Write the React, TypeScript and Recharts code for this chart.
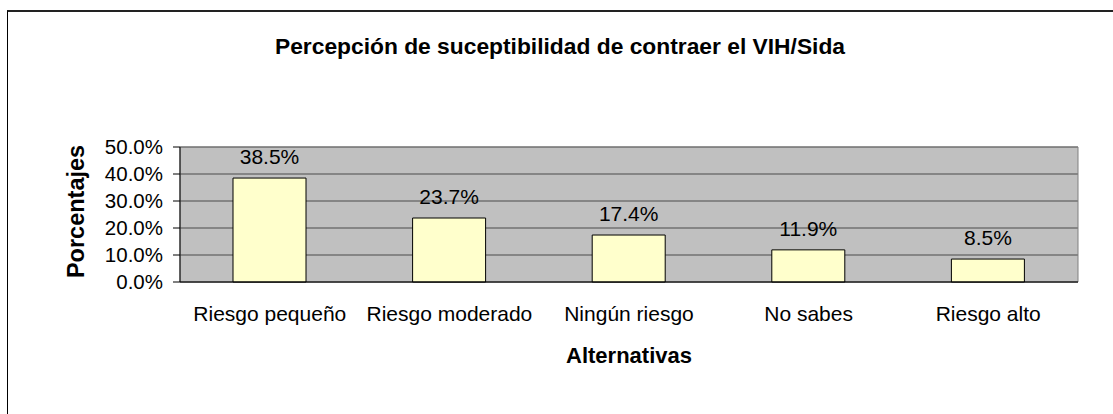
import { BarChart, Bar, XAxis, YAxis, CartesianGrid, ReferenceArea, LabelList, Label } from 'recharts';

const categories = ['Riesgo pequeño', 'Riesgo moderado', 'Ningún riesgo', 'No sabes', 'Riesgo alto'];
const percentages = [38.5, 23.7, 17.4, 11.9, 8.5];
const yTicks = [0, 10, 20, 30, 40, 50];
const boundaryTicks = [0, 1, 2, 3, 4, 5];

const data = categories.map((name, i) => ({ name, value: percentages[i] }));

const font = '"Liberation Sans", Arial, sans-serif';
const fmt = (v: number) => `${v.toFixed(1)}%`;

export default function App() {
  return (
    <div
      style={{
        position: 'absolute',
        left: 0,
        top: 0,
        width: 1113,
        height: 414,
        overflow: 'hidden',
        background: '#fff',
        fontFamily: font,
      }}
    >
      <div
        style={{
          position: 'absolute',
          left: 7,
          top: 10,
          width: 1120,
          height: 420,
          borderTop: '2px solid #222',
          borderLeft: '1px solid #000',
        }}
      />
      <div
        style={{
          position: 'absolute',
          left: 7,
          width: 1106,
          top: 33,
          textAlign: 'center',
          fontWeight: 'bold',
          fontSize: 22.8,
          color: '#000',
        }}
      >
        Percepción de suceptibilidad de contraer el VIH/Sida
      </div>
      <BarChart
        width={1113}
        height={414}
        data={data}
        margin={{ top: 147, right: 35, bottom: 32, left: 100 }}
        style={{ position: 'absolute', left: 0, top: 0 }}
      >
        <CartesianGrid vertical={false} fill="#C0C0C0" stroke="#4a4a4a" />
        <ReferenceArea y1={0} y2={50} fill="none" stroke="#808080" ifOverflow="visible" />
        <XAxis
          xAxisId="b"
          type="number"
          domain={[0, 5]}
          ticks={boundaryTicks}
          allowDataOverflow
          height={0}
          axisLine={false}
          tick={false}
          tickLine={{ stroke: '#000' }}
          tickSize={6}
        />
        <XAxis
          dataKey="name"
          height={100}
          axisLine={{ stroke: '#000' }}
          tickLine={false}
          tickMargin={18}
          tick={{ fill: '#000', fontSize: 21, fontFamily: font }}
          interval={0}
        >
          <Label
            content={({ viewBox }: any) => (
              <text
                x={viewBox.x + viewBox.width / 2}
                y={viewBox.y + 81}
                textAnchor="middle"
                fontFamily={font}
                fontSize={22}
                fontWeight="bold"
                fill="#000"
              >
                Alternativas
              </text>
            )}
          />
        </XAxis>
        <YAxis
          domain={[0, 50]}
          ticks={yTicks}
          interval={0}
          tickFormatter={fmt}
          width={80}
          axisLine={{ stroke: '#000' }}
          tickLine={{ stroke: '#000' }}
          tickSize={7}
          tickMargin={10}
          tick={{ fill: '#000', fontSize: 20.5, fontFamily: font }}
        >
          <Label
            content={({ viewBox }: any) => (
              <text
                x={0}
                y={0}
                transform={`translate(${viewBox.x - 24}, ${viewBox.y + viewBox.height / 2 - 3}) rotate(-90)`}
                textAnchor="middle"
                dominantBaseline="central"
                fontFamily={font}
                fontSize={23.5}
                fontWeight="bold"
                fill="#000"
              >
                Porcentajes
              </text>
            )}
          />
        </YAxis>
        <Bar dataKey="value" fill="#FFFFCC" stroke="#000" strokeWidth={1} barSize={73} isAnimationActive={false}>
          <LabelList
            dataKey="value"
            position="top"
            offset={14}
            formatter={(v: any) => fmt(Number(v))}
            style={{ fill: '#000', fontSize: 21, fontFamily: font }}
          />
        </Bar>
      </BarChart>
    </div>
  );
}
